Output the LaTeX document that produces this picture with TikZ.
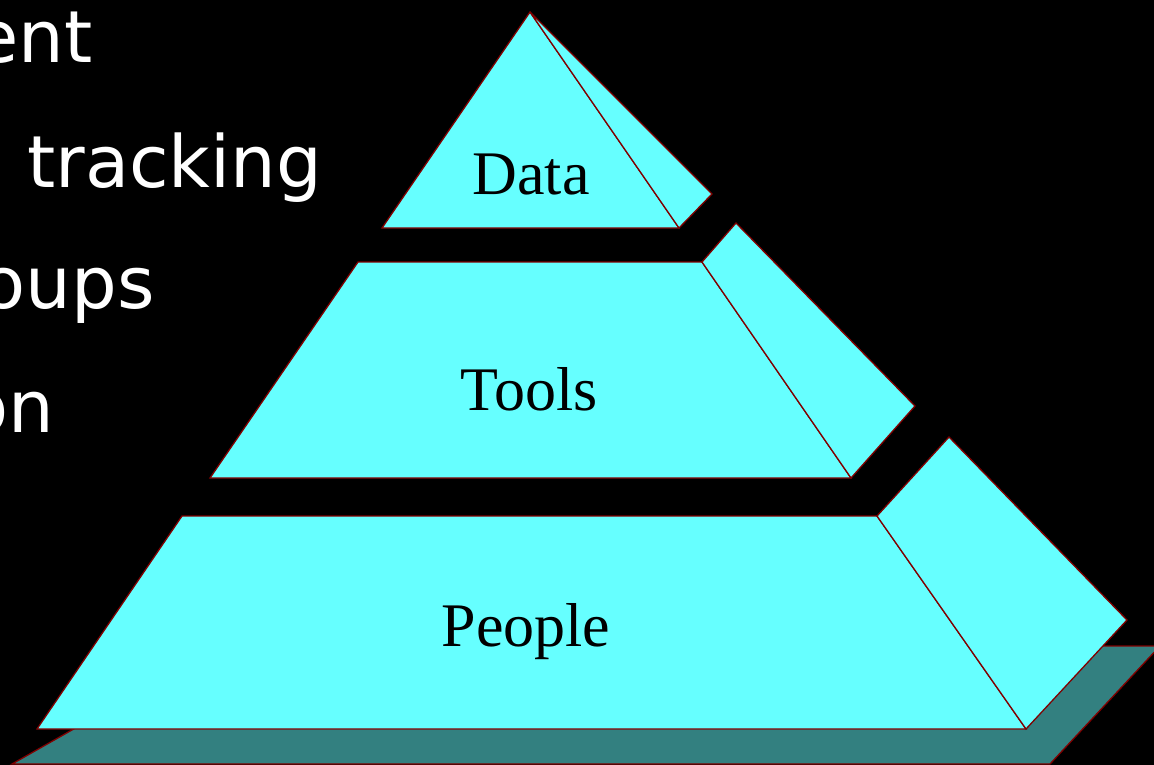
\documentclass[tikz,border=0pt]{standalone}
\usepackage{fontspec}
\setmainfont{Liberation Serif}
\newfontfamily\bulfont{DejaVu Sans}
\definecolor{facecyan}{HTML}{66FFFF}
\definecolor{edgered}{HTML}{800000}
\definecolor{shadowteal}{HTML}{338080}
\begin{document}
\begin{tikzpicture}[x=1pt,y=-1pt,
  face/.style={fill=facecyan,draw=edgered,line width=1.3pt,line join=miter},
  shadowface/.style={fill=shadowteal,draw=edgered,line width=1.3pt},
  layerlabel/.style={anchor=base,inner sep=0pt,font=\fontsize{62}{70}\selectfont},
  bullettext/.style={anchor=base east,inner sep=0pt,text=white,font=\bulfont\fontsize{72}{80}\selectfont}]
\fill[black] (0,0) rectangle (1154,765);
\useasboundingbox (0,0) rectangle (1154,765);
\begin{scope}
\clip (0,0) rectangle (1154,765);
% left text fragments (cut off at the left edge, as in the reference)
\node[bullettext] (t1) at (93,63) {ent};
\node[bullettext] (t2) at (322,187) {tracking};
\node[bullettext] (t3) at (155,308) {oups};
\node[bullettext] (t4) at (54,432) {on};
% shadow
\draw[shadowface] (12,764) -- (220,646) -- (1160,646) -- (1050,764) -- cycle;
% bottom layer
\draw[face] (37,729) -- (182,516) -- (877,516) -- (1026,729) -- cycle;
\draw[face] (877,516) -- (949,437) -- (1127,620) -- (1026,729) -- cycle;
% middle layer
\draw[face] (210,478) -- (358,262) -- (702,262) -- (851,478) -- cycle;
\draw[face] (702,262) -- (736,223) -- (915,406) -- (851,478) -- cycle;
% top layer
\draw[face] (382,228) -- (530,12) -- (679,228) -- cycle;
\draw[face] (530,12) -- (712,194) -- (679,228) -- cycle;
\end{scope}
\node[layerlabel] (data) at (531,194) {Data};
\node[layerlabel] (tools) at (529,410) {Tools};
\node[layerlabel] (people) at (526,646) {People};
\end{tikzpicture}
\end{document}
